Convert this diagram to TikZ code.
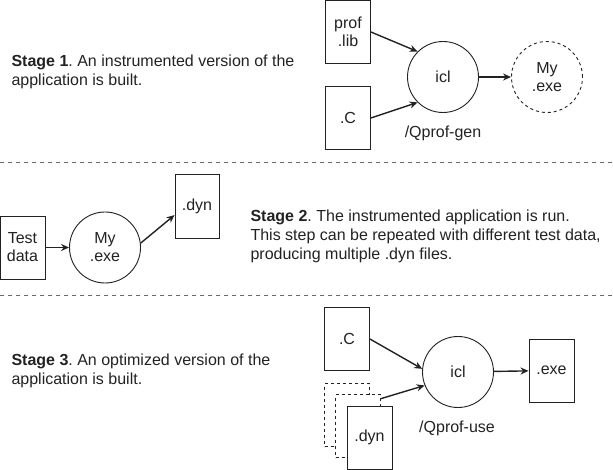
\documentclass[tikz,border=0pt]{standalone}
\usepackage{fontspec}
\setmainfont{Liberation Sans}
\usepackage{xcolor}
\usetikzlibrary{arrows.meta,positioning}
\definecolor{inkgray}{HTML}{222222}
\definecolor{sepgray}{HTML}{6A6A6A}
\frenchspacing

\begin{document}
\begin{tikzpicture}[x=1pt,y=-1pt,
  every node/.style={font=\fontsize{16}{18}\selectfont,text=inkgray},
  filebox/.style={draw=inkgray,line width=0.9pt,fill=white,minimum width=45pt,minimum height=63pt,align=center,inner sep=1pt},
  proc/.style={draw=inkgray,circle,line width=0.9pt,minimum size=71pt,align=center,inner sep=1pt},
  arr/.style={-{Stealth[length=8pt,width=7pt]},line width=1.4pt,draw=inkgray},
  sep/.style={sepgray,line width=0.8pt,dash pattern=on 4pt off 4pt},
  stagetext/.style={anchor=west,align=left,font=\fontsize{16}{19}\selectfont}]
  \useasboundingbox (0,0) rectangle (613,470);
  % Separators
  \draw[sep] (0,162.5) -- (613,162.5);
  \draw[sep] (0,295.5) -- (613,295.5);

  % Stage 1
  \node[stagetext] (stage1) at (8,72) {\textbf{Stage 1}. An instrumented version of the\\application is built.};
  \node[filebox] (proflib) at (348,32) {prof\\.lib};
  \node[filebox] (csrc1) at (348,118) {.C};
  \node[proc] (icl1) at (443,77) {icl};
  \node[proc,dash pattern=on 3pt off 3pt] (myexe1) at (547,77) {My\\.exe};
  \node (gen) at (443,133) {/Qprof-gen};
  \draw[arr] (proflib.east) -- (icl1.135);
  \draw[arr] (csrc1.east) -- (icl1.225);
  \draw[arr] (icl1) -- (myexe1);

  % Stage 2
  \node[filebox] (testdata) at (22.5,247.5) {Test\\data};
  \node[proc] (myexe2) at (105,247.5) {My\\.exe};
  \node[filebox,minimum width=44pt,minimum height=64pt] (dyn2) at (197,206) {.dyn};
  \node[stagetext] (stage2) at (247,236.5) {\textbf{Stage 2}. The instrumented application is run.\\This step can be repeated with different test data,\\producing multiple .dyn files.};
  \draw[arr] (testdata) -- (myexe2);
  \draw[arr] (myexe2.7) -- (dyn2.202);

  % Stage 3
  \node[stagetext] (stage3) at (8,371) {\textbf{Stage 3}. An optimized version of the\\application is built.};
  \node[filebox] (csrc3) at (347,339) {.C};
  \node[filebox,dash pattern=on 3pt off 3pt] (dyna) at (347,415) {};
  \node[filebox,dash pattern=on 3pt off 3pt] (dynb) at (358,426) {};
  \node[filebox] (dync) at (369.5,437.5) {.dyn};
  \node[proc] (icl3) at (458,372) {icl};
  \node[filebox] (exe3) at (551.5,370.5) {.exe};
  \node (use) at (457,428) {/Qprof-use};
  \draw[arr] (csrc3.east) -- (icl3.175);
  \draw[arr] (dynb.50) -- (icl3.202);
  \draw[arr] (icl3) -- (exe3);
\end{tikzpicture}
\end{document}
